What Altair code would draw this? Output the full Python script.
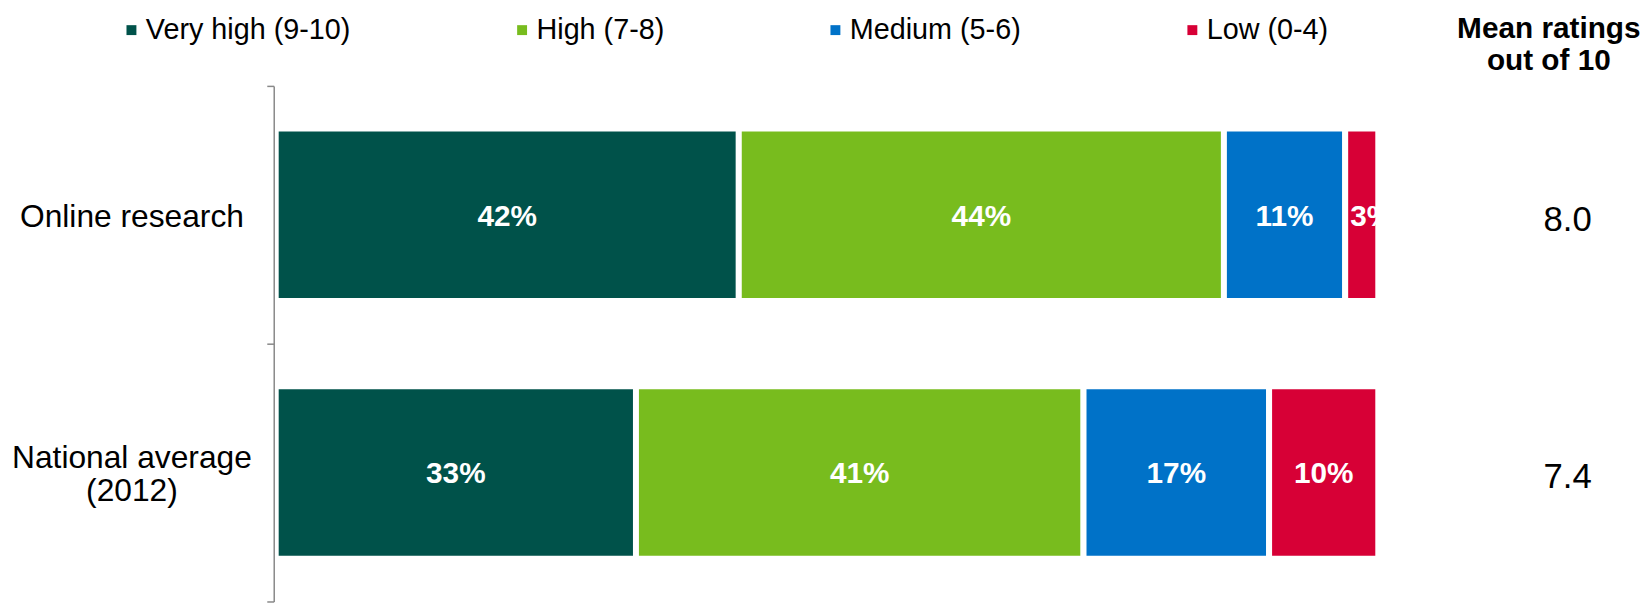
import altair as alt
import pandas as pd

categories = ["Online research", "National average\n(2012)"]
levels = ["Very high (9-10)", "High (7-8)", "Medium (5-6)", "Low (0-4)"]
colors = ["#00524A", "#78BC1E", "#0072C8", "#D70036"]
online = [42, 44, 11, 3]
national = [33, 41, 17, 10]
means = [8.0, 7.4]
header = ["Mean ratings", "out of 10"]

rows = []
for cat, vals in zip(categories, [online, national]):
    for i, (lev, v) in enumerate(zip(levels, vals)):
        rows.append({"category": cat, "level": lev, "order": i, "value": v})
df = pd.DataFrame(rows)
mean_df = pd.DataFrame({"category": categories, "mean": means})

FONT = "Liberation Sans"

y_enc = alt.Y(
    "category:N",
    sort=categories,
    scale=alt.Scale(paddingInner=0, paddingOuter=0),
    axis=alt.Axis(
        title=None,
        labels=False,
        domainColor="#888888",
        domainWidth=1.5,
        tickColor="#888888",
        tickWidth=1.5,
        tickSize=7,
        tickBand="extent",
        offset=2,
        zindex=1,
    ),
)
y_plain = alt.Y("category:N", sort=categories)

base = alt.Chart(df).transform_joinaggregate(
    total="sum(value)", groupby=["category"]
).transform_window(
    cum="sum(value)", sort=[alt.SortField("order", order="ascending")],
    groupby=["category"], frame=[None, 0]
).transform_calculate(
    start="(datum.cum - datum.value) / datum.total",
    end="datum.cum / datum.total",
    mid="(2 * datum.cum - datum.value) / (2 * datum.total)",
    label="datum.value + '%'",
)

x_scale = alt.Scale(domain=[0, 1], nice=False, zero=True)

bars = base.mark_bar(stroke="white", strokeWidth=6, height=alt.RelativeBandSize(band=0.669)).encode(
    x=alt.X("start:Q", scale=x_scale, axis=None),
    x2="end:Q",
    y=y_enc,
    color=alt.Color(
        "level:N",
        scale=alt.Scale(domain=levels, range=colors),
        legend=alt.Legend(
            orient="none",
            legendX=-160,
            legendY=-71,
            direction="horizontal",
            title=None,
            symbolType="square",
            symbolSize=100,
            symbolStrokeWidth=0,
            labelFont=FONT,
            labelFontSize=29,
            labelColor="black",
            labelOffset=0,
            columnPadding=158,
            padding=0,
            labelLimit=500,
        ),
    ),
)

labels_wide = base.transform_filter("datum.value >= 5").mark_text(
    font=FONT, fontSize=30, fontWeight="bold", color="white",
    align="center", baseline="middle", dy=2,
).encode(
    x=alt.X("mid:Q", scale=x_scale),
    y=y_plain,
    text="label:N",
)

labels_narrow = base.transform_filter("datum.value < 5").mark_text(
    font=FONT, fontSize=30, fontWeight="bold", color="white",
    align="left", baseline="middle", dy=2, dx=5,
).encode(
    x=alt.X("start:Q", scale=x_scale),
    y=y_plain,
    text="label:N",
)

cat_base = alt.Chart(mean_df).transform_calculate(
    lines="split(datum.category, '\\n')",
    nlines="length(split(datum.category, '\\n'))",
)

cat_single = cat_base.transform_filter("datum.nlines == 1").mark_text(
    font=FONT, fontSize=32, color="black", align="center", baseline="middle", dy=2,
).encode(
    x=alt.value(-145),
    y=y_plain,
    text="category:N",
)

cat_multi = cat_base.transform_filter("datum.nlines > 1").mark_text(
    font=FONT, fontSize=32, color="black", align="center", baseline="middle",
    lineHeight=34, dy=-15,
).encode(
    x=alt.value(-145),
    y=y_plain,
    text=alt.Text("lines:N"),
)

mean_text = alt.Chart(mean_df).mark_text(
    font=FONT, fontSize=35, color="black", align="center", baseline="middle", dy=5,
).encode(
    x=alt.value(1303),
    y=y_plain,
    text=alt.Text("mean:Q", format=".1f"),
)

header_text = alt.Chart(alt.Data(values=[{"t": 1}])).mark_text(
    font=FONT, fontSize=30, fontWeight="bold", color="black",
    align="center", baseline="middle", lineHeight=32, text=header,
).encode(
    x=alt.value(1284),
    y=alt.value(-57),
)

chart = alt.layer(
    bars, labels_wide, labels_narrow, cat_single, cat_multi, mean_text, header_text
).properties(
    width=1112,
    height=520,
    padding={"left": 270, "top": 76, "right": 268, "bottom": 3},
    autosize=alt.AutoSizeParams(type="none"),
).configure_view(stroke=None)

chart.save("out.html", embed_options={"renderer": "svg", "actions": False})
